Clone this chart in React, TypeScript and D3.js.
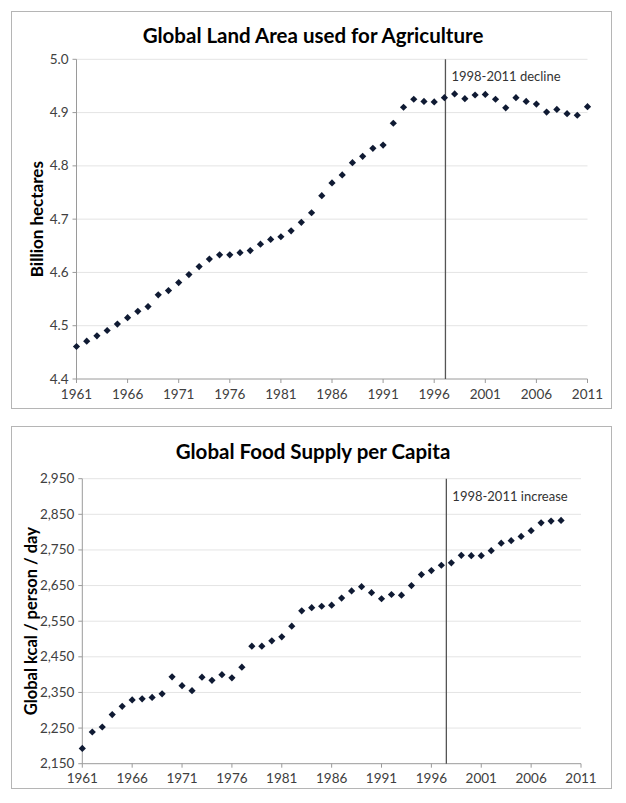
import React from "react";
import * as d3 from "d3";

const landYears = [
  1961, 1962, 1963, 1964, 1965, 1966, 1967, 1968, 1969, 1970,
  1971, 1972, 1973, 1974, 1975, 1976, 1977, 1978, 1979, 1980,
  1981, 1982, 1983, 1984, 1985, 1986, 1987, 1988, 1989, 1990,
  1991, 1992, 1993, 1994, 1995, 1996, 1997, 1998, 1999, 2000,
  2001, 2002, 2003, 2004, 2005, 2006, 2007, 2008, 2009, 2010,
  2011,
];
const landValues = [
  4.461, 4.471, 4.481, 4.491, 4.503, 4.515, 4.527, 4.536, 4.558, 4.566,
  4.581, 4.596, 4.611, 4.625, 4.633, 4.633, 4.637, 4.641, 4.653, 4.662,
  4.667, 4.678, 4.694, 4.712, 4.744, 4.768, 4.783, 4.806, 4.818, 4.833,
  4.839, 4.88, 4.91, 4.925, 4.921, 4.92, 4.928, 4.935, 4.926, 4.933,
  4.934, 4.925, 4.909, 4.928, 4.921, 4.916, 4.901, 4.906, 4.898, 4.895,
  4.911,
];
const foodYears = [
  1961, 1962, 1963, 1964, 1965, 1966, 1967, 1968, 1969, 1970,
  1971, 1972, 1973, 1974, 1975, 1976, 1977, 1978, 1979, 1980,
  1981, 1982, 1983, 1984, 1985, 1986, 1987, 1988, 1989, 1990,
  1991, 1992, 1993, 1994, 1995, 1996, 1997, 1998, 1999, 2000,
  2001, 2002, 2003, 2004, 2005, 2006, 2007, 2008, 2009,
];
const foodValues = [
  2193, 2239, 2253, 2288, 2311, 2329, 2332, 2336, 2346, 2394,
  2369, 2355, 2393, 2384, 2400, 2391, 2421, 2480, 2480, 2495,
  2506, 2536, 2579, 2588, 2592, 2595, 2615, 2635, 2647, 2630,
  2613, 2625, 2623, 2650, 2681, 2692, 2707, 2714, 2735, 2734,
  2734, 2748, 2769, 2776, 2788, 2804, 2826, 2831, 2833,
];
const yearTicks = [1961, 1966, 1971, 1976, 1981, 1986, 1991, 1996, 2001, 2006, 2011];
const landTicks = [4.4, 4.5, 4.6, 4.7, 4.8, 4.9, 5.0];
const foodTicks = [2150, 2250, 2350, 2450, 2550, 2650, 2750, 2850, 2950];

const FONT = "Lato, 'Open Sans', sans-serif";

type PanelProps = {
  frame: { x: number; y: number; w: number; h: number };
  plot: { x0: number; x1: number; y0: number; y1: number };
  title: string;
  titleY: number;
  yTitle: string;
  yTitleX: number;
  yTitleSize: number;
  years: number[];
  values: number[];
  yTicks: number[];
  yFmt: (v: number) => string;
  markerYear: number;
  note: string;
};

function Panel(p: PanelProps) {
  const x = d3.scaleLinear().domain([1961, 2011]).range([p.plot.x0, p.plot.x1]);
  const y = d3
    .scaleLinear()
    .domain([p.yTicks[0], p.yTicks[p.yTicks.length - 1]])
    .range([p.plot.y1, p.plot.y0]);
  const diamond = d3.symbol().type(d3.symbolSquare).size(26)();
  const axisColor = "#9a9a9a";
  return (
    <g>
      <rect x={p.frame.x + 0.5} y={p.frame.y + 0.5} width={p.frame.w} height={p.frame.h} fill="#fff" stroke="#b5b5b5" />
      <text x={p.frame.x + p.frame.w / 2 + 2} y={p.titleY} textAnchor="middle" fontFamily={FONT} fontWeight={700} fontSize={20.5} fill="#000">
        {p.title}
      </text>
      {p.yTicks.map((t) => (
        <g key={t}>
          {t !== p.yTicks[0] && (
            <line x1={p.plot.x0} x2={p.plot.x1} y1={y(t)} y2={y(t)} stroke="#e4e4e4" strokeWidth={1} />
          )}
          <line x1={p.plot.x0 - 4} x2={p.plot.x0} y1={y(t)} y2={y(t)} stroke={axisColor} />
          <text x={p.plot.x0 - 8} y={y(t) + 4.5} textAnchor="end" fontFamily={FONT} fontSize={13.5} fill="#404040">
            {p.yFmt(t)}
          </text>
        </g>
      ))}
      <line x1={p.plot.x0} x2={p.plot.x0} y1={p.plot.y0} y2={p.plot.y1} stroke={axisColor} />
      <line x1={p.plot.x0} x2={p.plot.x1} y1={p.plot.y1} y2={p.plot.y1} stroke={axisColor} />
      {yearTicks.map((t) => (
        <g key={t}>
          <line x1={x(t)} x2={x(t)} y1={p.plot.y1} y2={p.plot.y1 + 4} stroke={axisColor} />
          <text x={x(t)} y={p.plot.y1 + 19.5} textAnchor="middle" fontFamily={FONT} fontSize={13.5} fill="#404040">
            {t}
          </text>
        </g>
      ))}
      <line x1={x(p.markerYear)} x2={x(p.markerYear)} y1={p.plot.y0} y2={p.plot.y1} stroke="#555" strokeWidth={1.3} />
      <text x={x(p.markerYear) + 6} y={p.plot.y0 + 22} fontFamily={FONT} fontSize={13} fill="#333">
        {p.note}
      </text>
      <text
        transform={`translate(${p.yTitleX},${(p.plot.y0 + p.plot.y1) / 2}) rotate(-90)`}
        textAnchor="middle"
        fontFamily={FONT}
        fontWeight={700}
        fontSize={p.yTitleSize}
        fill="#000"
      >
        {p.yTitle}
      </text>
      {p.values.map((v, i) => (
        <path
          key={i}
          d={diamond}
          transform={`translate(${x(p.years[i])},${y(v)}) rotate(45)`}
          fill="#0f1a33"
        />
      ))}
    </g>
  );
}

export default function App() {
  return (
    <svg width={626} height={803} style={{ position: "absolute", left: 0, top: 0, background: "#fff" }}>
      <rect x={0} y={0} width={626} height={803} fill="#fff" />
      <Panel
        frame={{ x: 11, y: 11, w: 600, h: 397 }}
        plot={{ x0: 76.5, x1: 587.5, y0: 59.3, y1: 379 }}
        title="Global Land Area used for Agriculture"
        titleY={43}
        yTitle="Billion hectares"
        yTitleX={43}
        yTitleSize={17}
        years={landYears}
        values={landValues}
        yTicks={landTicks}
        yFmt={(v) => d3.format(".1f")(v)}
        markerYear={1997.1}
        note="1998-2011 decline"
      />
      <Panel
        frame={{ x: 11, y: 426, w: 600, h: 362 }}
        plot={{ x0: 82.3, x1: 581, y0: 478.7, y1: 763.7 }}
        title="Global Food Supply per Capita"
        titleY={459}
        yTitle="Global kcal / person / day"
        yTitleX={37}
        yTitleSize={16.5}
        years={foodYears}
        values={foodValues}
        yTicks={foodTicks}
        yFmt={(v) => d3.format(",")(v)}
        markerYear={1997.5}
        note="1998-2011 increase"
      />
    </svg>
  );
}
